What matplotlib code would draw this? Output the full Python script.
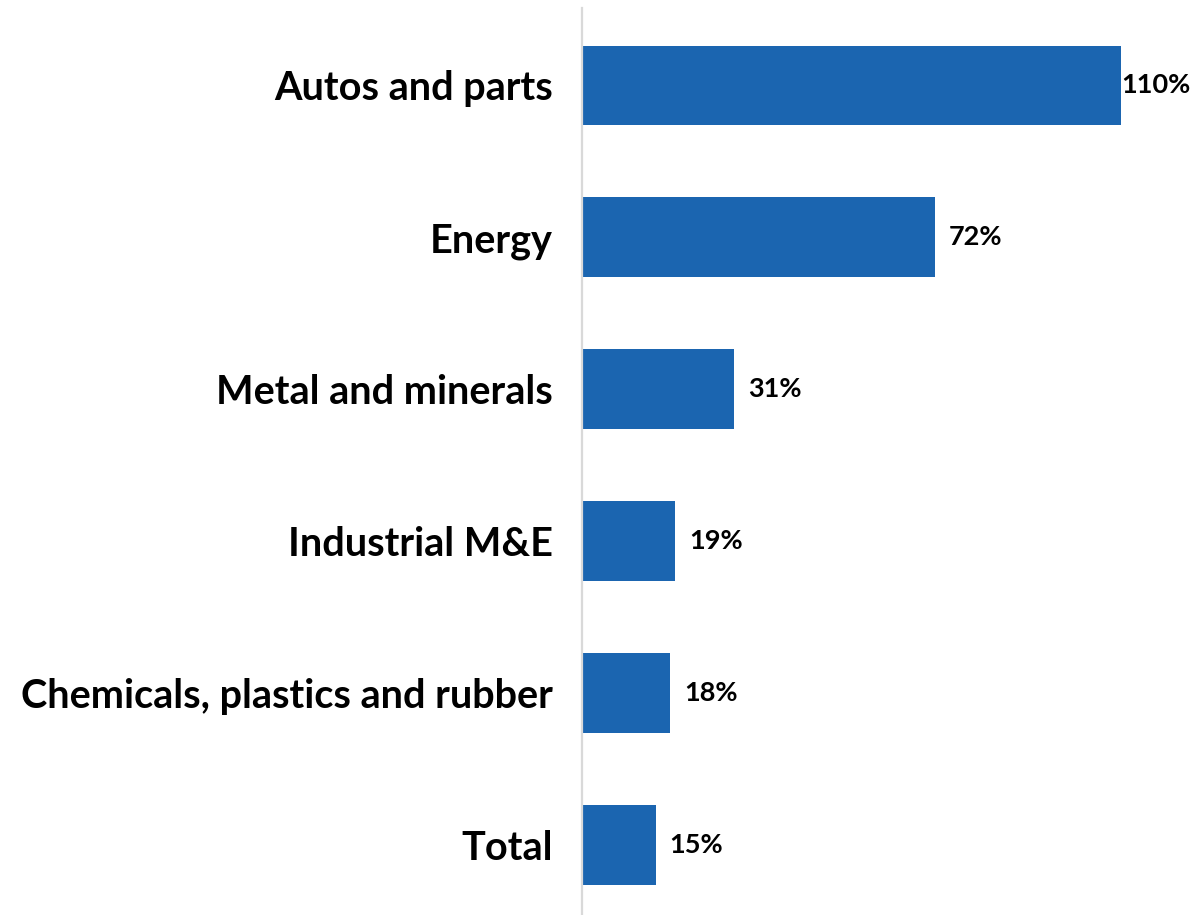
import matplotlib
matplotlib.use("Agg")
import matplotlib.pyplot as plt

# data (top to bottom)
categories = ["Autos and parts", "Energy", "Metal and minerals", "Industrial M&E",
              "Chemicals, plastics and rubber", "Total"]
values = [110, 72, 31, 19, 18, 15]

bar_color = "#1B65B0"
font = ["Lato", "DejaVu Sans"]

fig = plt.figure(figsize=(11.95, 9.15), dpi=100)
ax = fig.add_axes([582 / 1195, 0.0, (1121 - 582) / 1195, 907 / 915])

ypos = list(range(len(categories)))[::-1]
ax.barh(ypos, values, height=0.526, color=bar_color, zorder=2)

ax.set_xlim(0, max(values))
ax.set_ylim(-0.46, 5.51)

ax.set_yticks(ypos)
ax.set_yticklabels(categories, fontsize=28.5, fontweight="bold", family=font)
ax.tick_params(axis="y", length=0, pad=21)
ax.set_xticks([])

for s in ["top", "right", "bottom"]:
    ax.spines[s].set_visible(False)
ax.spines["left"].set_color("#D9D9D9")
ax.spines["left"].set_linewidth(1.6)

# value labels, the longest bar has no room so its label hugs the bar end
for y, v in zip(ypos, values):
    off = 0.5 if v == max(values) else 10
    ax.annotate(f"{v}%", (v, y), xytext=(off, 0), textcoords="offset points",
                va="center", ha="left", fontsize=19.5, fontweight="bold",
                family=font, annotation_clip=False)

fig.savefig("out.png", dpi=100)
